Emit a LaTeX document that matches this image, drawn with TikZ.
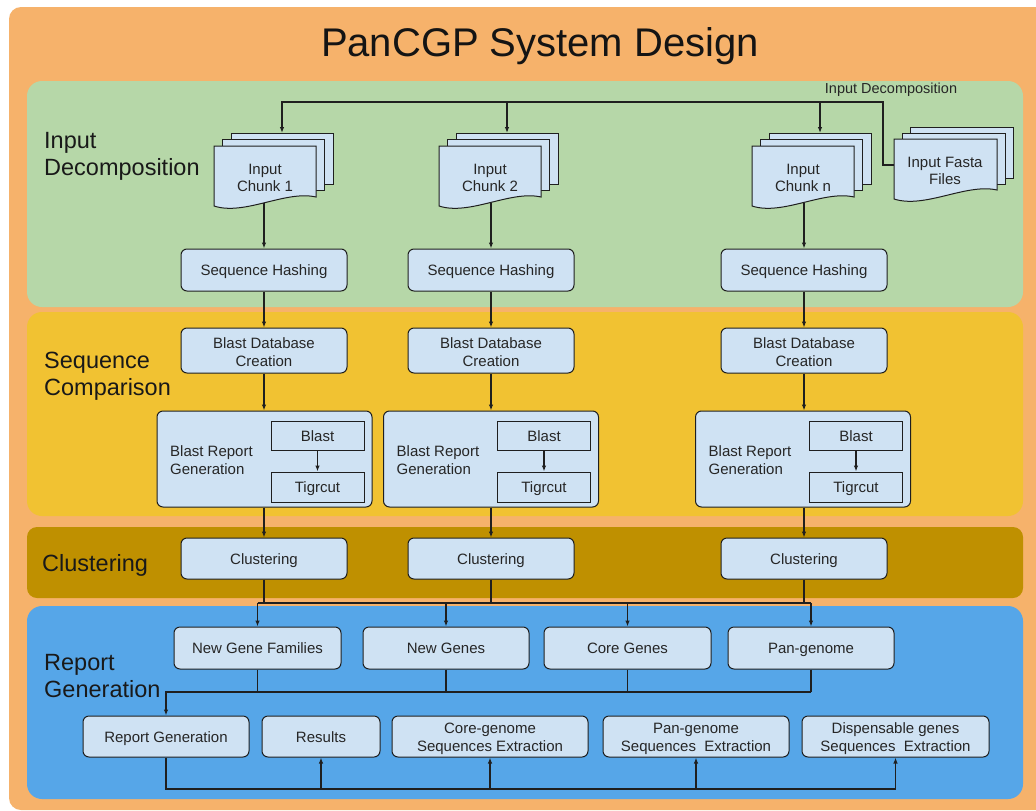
\documentclass[tikz,border=0pt]{standalone}
\usepackage{fontspec}
\setmainfont{Liberation Sans}
\usetikzlibrary{arrows.meta}
\definecolor{outerc}{HTML}{F6B26B}
\definecolor{greenc}{HTML}{B6D7A8}
\definecolor{yellowc}{HTML}{F1C232}
\definecolor{goldc}{HTML}{BF9000}
\definecolor{bluec}{HTML}{56A6E8}
\definecolor{boxc}{HTML}{CFE2F3}
\definecolor{linec}{HTML}{1F1F1F}
\definecolor{textc}{HTML}{262626}

% one page of a document stack: left, top, width
\newcommand{\docpage}[3]{%
  \draw[page] (#1,#2) -- ({#1+#3},#2) -- ({#1+#3},{#2+51})
    .. controls ({#1+0.7*#3},{#2+44}) and ({#1+0.3*#3},{#2+70}) .. (#1,{#2+60}) -- cycle;}
% a page partly hidden behind the front one
\newcommand{\backpage}[3]{%
  \draw[page] (#1,#2) rectangle ({#1+#3},{#2+51});}
% extra head room on the first line of two-line labels
\newcommand{\toplift}{\rule{0pt}{15pt}}

\begin{document}
\begin{tikzpicture}[x=1pt,y=-1pt,
  ln/.style={draw=linec, line width=1.1pt},
  arr/.style={ln, -{Latex[length=6pt,width=4.5pt]}},
  page/.style={draw=linec, fill=boxc, line width=1pt},
  box/.style={draw=linec, fill=boxc, rounded corners=6pt, line width=1pt,
    font=\fontsize{15}{18}\selectfont, text=textc, align=center, inner sep=0pt},
  one/.style={text height=13pt, text depth=1.5pt},
  sqbox/.style={box, one, rounded corners=0pt},
  plain/.style={font=\fontsize{15}{17.5}\selectfont, text=textc, align=center, inner sep=0pt},
  seclabel/.style={font=\fontsize{23.5}{27}\selectfont, text=black!90, align=left, inner sep=0pt, anchor=west}]

\useasboundingbox (0,0) rectangle (1036,811);
\fill[white] (0,0) rectangle (1036,811);

% layered background panels
\fill[outerc, rounded corners=12pt] (9,7) rectangle (1060,810);
\fill[greenc, rounded corners=15pt] (27,81) rectangle (1023,307);
\fill[yellowc, rounded corners=15pt] (27,312) rectangle (1023,516);
\fill[goldc, rounded corners=10pt] (27,527) rectangle (1023,598);
\fill[bluec, rounded corners=15pt] (27,606) rectangle (1023,799);

% title and layer names
\node[font=\fontsize{40}{48}\selectfont, text=black!92, inner sep=0pt, anchor=base] (title) at (540,56) {PanCGP System Design};
\node[seclabel] (lab1) at (44,156.5) {Input\\Decomposition};
\node[seclabel] (lab2) at (44,376.5) {Sequence\\Comparison};
\node[seclabel] (lab3) at (42,565) {Clustering};
\node[seclabel] (lab4) at (44,676.5) {Report\\Generation};

% input documents
\foreach \i/\L in {1/214, 2/439, 3/752} {
  \backpage{\L+17}{133}{102}
  \backpage{\L+8}{139}{102}
  \docpage{\L}{146}{102}
  \coordinate (c\i in) at (\L+68,133);
}
\node[plain] (chunk1) at (265,178) {Input\\Chunk 1};
\node[plain] (chunk2) at (490,178) {Input\\Chunk 2};
\node[plain] (chunk3) at (803,178) {Input\\Chunk n};

\backpage{910}{127}{103}
\backpage{902}{133}{103}
\docpage{894}{139}{103}
\node[plain] (fasta) at (945,171) {Input Fasta\\Files};
\coordinate (fastaW) at (894,165);
\coordinate (jog) at (883,165);
\coordinate (busI) at (0,102);
\node[font=\fontsize{14.5}{17}\selectfont, text=textc, inner sep=0pt, one] (idlabel) at (891,88) {Input Decomposition};

\draw[arr] (fastaW) -- (jog) |- (c1in |- busI) -- (c1in);
\draw[arr] (c2in |- busI) -- (c2in);
\draw[arr] (c3in |- busI) -- (c3in);

% per-chunk processing columns
\coordinate (docB) at (0,203);
\foreach \i/\x/\bx in {1/264/264.5, 2/491/491, 3/804/803} {
  \node[box, one, minimum width=166pt, minimum height=42pt] (sh\i) at (\x,270) {Sequence Hashing};
  \node[box, minimum width=166pt, minimum height=45pt] (db\i) at (\x,350.5) {\toplift Blast Database\\Creation};
  \node[box, minimum width=215pt, minimum height=96pt] (br\i) at (\bx,459) {};
  \node[plain, align=left, anchor=west] (brl\i) at (\bx-94.5,460) {Blast Report\\Generation};
  \node[sqbox, minimum width=93pt, minimum height=29pt] (bl\i) at (\bx+53,435.5) {Blast};
  \node[sqbox, minimum width=93pt, minimum height=30pt] (tg\i) at (\bx+53,487) {Tigrcut};
  \node[box, one, minimum width=166pt, minimum height=41pt] (cl\i) at (\x,558.5) {Clustering};
  \draw[arr] (sh\i.north |- docB) -- (sh\i.north);
  \draw[arr] (sh\i) -- (db\i);
  \draw[arr] (db\i.south) -- (db\i.south |- br\i.north);
  \draw[arr] (bl\i) -- (tg\i);
  \draw[arr] (cl\i.north |- br\i.south) -- (cl\i.north);
}

% report outputs
\node[box, one, minimum width=167pt, minimum height=42pt] (ngf) at (257.5,648) {New Gene Families};
\node[box, one, minimum width=166pt, minimum height=42pt] (ng) at (446,648) {New Genes};
\node[box, one, minimum width=167pt, minimum height=42pt] (cg) at (627.5,648) {Core Genes};
\node[box, one, minimum width=166pt, minimum height=42pt] (pg) at (811,648) {Pan-genome};

\node[box, one, minimum width=166pt, minimum height=41pt] (rg) at (166,736.5) {Report Generation};
\node[box, one, minimum width=118pt, minimum height=41pt] (res) at (321,736.5) {Results};
\node[box, minimum width=196pt, minimum height=41pt] (cge) at (490,736.5) {\toplift Core-genome\\Sequences Extraction};
\node[box, minimum width=186pt, minimum height=41pt] (pge) at (696,736.5) {\toplift Pan-genome\\Sequences\ \ Extraction};
\node[box, minimum width=187pt, minimum height=41pt] (dge) at (895.5,736.5) {\toplift Dispensable genes\\Sequences\ \ Extraction};

% clustering results fan out
\coordinate (busT) at (0,603);
\foreach \i in {1,2,3} \draw[ln] (cl\i.south) -- (cl\i.south |- busT);
\draw[ln] (ngf.north |- busT) -- (pg.north |- busT);
\foreach \n in {ngf,ng,cg,pg} \draw[arr] (\n.north |- busT) -- (\n.north);

% outputs gathered for the report
\coordinate (busM) at (0,692);
\foreach \n in {ngf,ng,cg,pg} \draw[ln] (\n.south) -- (\n.south |- busM);
\draw[arr] (pg.south |- busM) -| (rg.north);

% report feeds the final products
\coordinate (busB) at (0,789);
\draw[ln] (rg.south) |- (dge.south |- busB);
\foreach \n in {res,cge,pge,dge} \draw[arr] (\n.south |- busB) -- (\n.south);

\end{tikzpicture}
\end{document}
